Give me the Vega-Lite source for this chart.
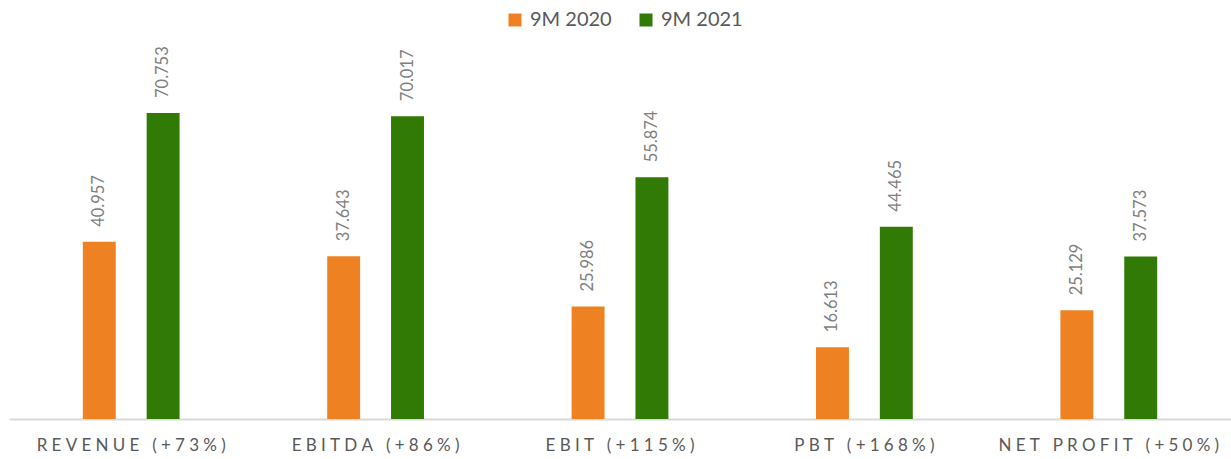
{
  "$schema": "https://vega.github.io/schema/vega-lite/v6.json",
  "width": 1222,
  "height": 346,
  "autosize": "none",
  "padding": {"left": 9, "top": 73, "right": 0, "bottom": 40},
  "background": "white",
  "config": {"view": {"stroke": null}, "font": "Lato"},
  "data": {
    "values": [
      {"metric": "REVENUE (+73%)", "period": "9M 2020", "value": 40.957},
      {"metric": "REVENUE (+73%)", "period": "9M 2021", "value": 70.753},
      {"metric": "EBITDA (+86%)", "period": "9M 2020", "value": 37.643},
      {"metric": "EBITDA (+86%)", "period": "9M 2021", "value": 70.017},
      {"metric": "EBIT (+115%)", "period": "9M 2020", "value": 25.986},
      {"metric": "EBIT (+115%)", "period": "9M 2021", "value": 55.874},
      {"metric": "PBT (+168%)", "period": "9M 2020", "value": 16.613},
      {"metric": "PBT (+168%)", "period": "9M 2021", "value": 44.465},
      {"metric": "NET PROFIT (+50%)", "period": "9M 2020", "value": 25.129},
      {"metric": "NET PROFIT (+50%)", "period": "9M 2021", "value": 37.573}
    ]
  },
  "encoding": {
    "x": {
      "field": "metric", "type": "nominal", "sort": null,
      "scale": {"paddingInner": 0.604, "paddingOuter": 0.302},
      "axis": {
        "title": null, "labelAngle": 0, "ticks": false, "domainColor": "#d9d9d9", "domainWidth": 2,
        "labelFontSize": 17, "labelColor": "#595959", "labelPadding": 18, "labelFont": "Lato", "labelLimit": 0,
        "labelExpr": "join(split(datum.label, ''), '\u2009\u2009')"
      }
    },
    "xOffset": {"field": "period", "type": "nominal", "scale": {"paddingInner": 0.484, "paddingOuter": 0}},
    "y": {"field": "value", "type": "quantitative", "scale": {"domain": [0, 80]}, "axis": null}
  },
  "layer": [
    {
      "mark": {"type": "bar"},
      "encoding": {
        "color": {
          "field": "period", "type": "nominal",
          "scale": {"domain": ["9M 2020", "9M 2021"], "range": ["#EE8222", "#327A06"]},
          "legend": {
            "title": null, "orient": "none", "direction": "horizontal",
            "legendX": 496, "legendY": -63,
            "symbolType": "square", "symbolSize": 169, "symbolStrokeWidth": 0,
            "labelFontSize": 20, "labelColor": "#595959", "labelOffset": 5, "columnPadding": 24
          }
        }
      }
    },
    {
      "mark": {"type": "text", "angle": -90, "align": "left", "baseline": "middle", "dx": 15, "fontSize": 16.5, "color": "#7f7f7f"},
      "encoding": {"text": {"field": "value", "type": "quantitative", "format": ".3f"}}
    }
  ]
}
